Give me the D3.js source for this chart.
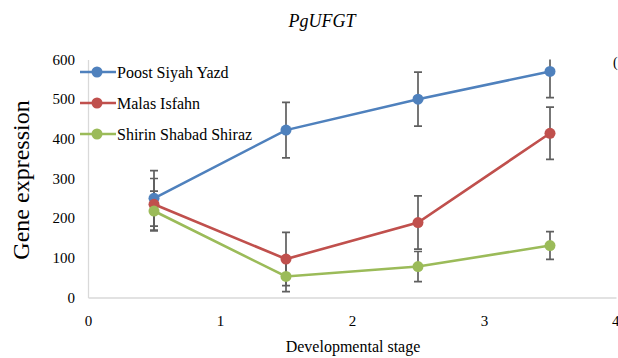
<!DOCTYPE html>
<html>
<head>
<meta charset="utf-8">
<script src="https://cdn.jsdelivr.net/npm/d3@7"></script>
<style>
  body { margin: 0; background: #fff; }
</style>
</head>
<body>
<div id="chart"></div>
<script>
// stage positions on the x axis
const stages = [0.5, 1.5, 2.5, 3.5];
const seriesNames = ['Poost Siyah Yazd', 'Malas Isfahn', 'Shirin Shabad Shiraz'];
const seriesColors = ['#4f81bd', '#c0504d', '#9bbb59'];

const poostValues = [250, 422, 500, 570];
const poostErrors = [70, 70, 68, 66];
const malasValues = [235, 97, 189, 414];
const malasErrors = [65, 67, 67, 66];
const shirinValues = [218, 53, 78, 131];
const shirinErrors = [50, 38, 38, 35];

const xTicks = [0, 1, 2, 3, 4];
const yTicks = [0, 100, 200, 300, 400, 500, 600];

const serif = '"Liberation Serif", "Times New Roman", serif';

const series = [
  { name: seriesNames[0], color: seriesColors[0], values: poostValues, errors: poostErrors },
  { name: seriesNames[1], color: seriesColors[1], values: malasValues, errors: malasErrors },
  { name: seriesNames[2], color: seriesColors[2], values: shirinValues, errors: shirinErrors }
];

const width = 618, height = 358;
const margin = { top: 59.5, right: 2, bottom: 60.5, left: 88 };
const innerW = width - margin.left - margin.right;
const innerH = height - margin.top - margin.bottom;

const svg = d3.select('#chart')
  .append('svg')
  .attr('width', width)
  .attr('height', height)
  .attr('font-family', serif);

const g = svg.append('g')
  .attr('transform', `translate(${margin.left},${margin.top})`);

const x = d3.scaleLinear().domain([0, 4]).range([0, innerW]);
const y = d3.scaleLinear().domain([0, 600]).range([innerH, 0]);

// axes (no tick marks, light grey lines)
const xAxis = g.append('g')
  .attr('transform', `translate(0,${innerH})`)
  .call(d3.axisBottom(x).tickValues(xTicks).tickSize(0).tickPadding(18).tickFormat(d3.format('d')));
const yAxis = g.append('g')
  .call(d3.axisLeft(y).tickValues(yTicks).tickSize(0).tickPadding(13));

[xAxis, yAxis].forEach(a => {
  a.attr('font-family', serif).attr('font-size', 15);
  a.select('.domain').attr('stroke', '#d9d9d9').attr('stroke-width', 1.3);
  a.selectAll('text').attr('fill', '#000');
});
// last x label sits against the right edge
xAxis.selectAll('.tick').filter(d => d === 4).select('text')
  .attr('text-anchor', 'end').attr('x', 3);

g.append('clipPath').attr('id', 'plot-clip')
  .append('rect').attr('x', -10).attr('y', 0).attr('width', innerW + 20).attr('height', innerH + 10);

const plot = g.append('g').attr('clip-path', 'url(#plot-clip)');

const line = d3.line()
  .x((d, i) => x(stages[i]))
  .y(d => y(d));

// error bars
series.forEach(s => {
  const eb = plot.append('g').attr('stroke', '#5f5f5f').attr('stroke-width', 1.7);
  s.values.forEach((v, i) => {
    const cx = x(stages[i]);
    const top = y(v + s.errors[i]);
    const bot = y(v - s.errors[i]);
    eb.append('line').attr('x1', cx).attr('x2', cx).attr('y1', top).attr('y2', bot);
    eb.append('line').attr('x1', cx - 4).attr('x2', cx + 4).attr('y1', top).attr('y2', top);
    eb.append('line').attr('x1', cx - 4).attr('x2', cx + 4).attr('y1', bot).attr('y2', bot);
  });
});

// lines and markers
series.forEach(s => {
  plot.append('path')
    .datum(s.values)
    .attr('fill', 'none')
    .attr('stroke', s.color)
    .attr('stroke-width', 2.6)
    .attr('d', line);
  plot.selectAll(null)
    .data(s.values)
    .enter()
    .append('circle')
    .attr('cx', (d, i) => x(stages[i]))
    .attr('cy', d => y(d))
    .attr('r', 5.5)
    .attr('fill', s.color);
});

// legend
const legend = svg.append('g').attr('transform', 'translate(80,72)');
series.forEach((s, i) => {
  const row = legend.append('g').attr('transform', `translate(0,${i * 31})`);
  row.append('line').attr('x1', 0).attr('x2', 36).attr('stroke', s.color).attr('stroke-width', 2.6);
  row.append('circle').attr('cx', 17).attr('r', 5.5).attr('fill', s.color);
  row.append('text').attr('x', 37).attr('dy', '0.35em')
    .attr('font-size', 16).text(s.name);
});

// titles
svg.append('text')
  .attr('x', 322).attr('y', 27)
  .attr('text-anchor', 'middle')
  .attr('font-style', 'italic').attr('font-size', 18)
  .text('PgUFGT');

svg.append('text')
  .attr('transform', 'translate(29,180) rotate(-90)')
  .attr('text-anchor', 'middle')
  .attr('font-size', 24)
  .text('Gene expression');

svg.append('text')
  .attr('x', 353).attr('y', 352)
  .attr('text-anchor', 'middle')
  .attr('font-size', 16)
  .text('Developmental stage');

svg.append('text')
  .attr('x', 613).attr('y', 67)
  .attr('font-size', 14)
  .text('(');
</script>
</body>
</html>
